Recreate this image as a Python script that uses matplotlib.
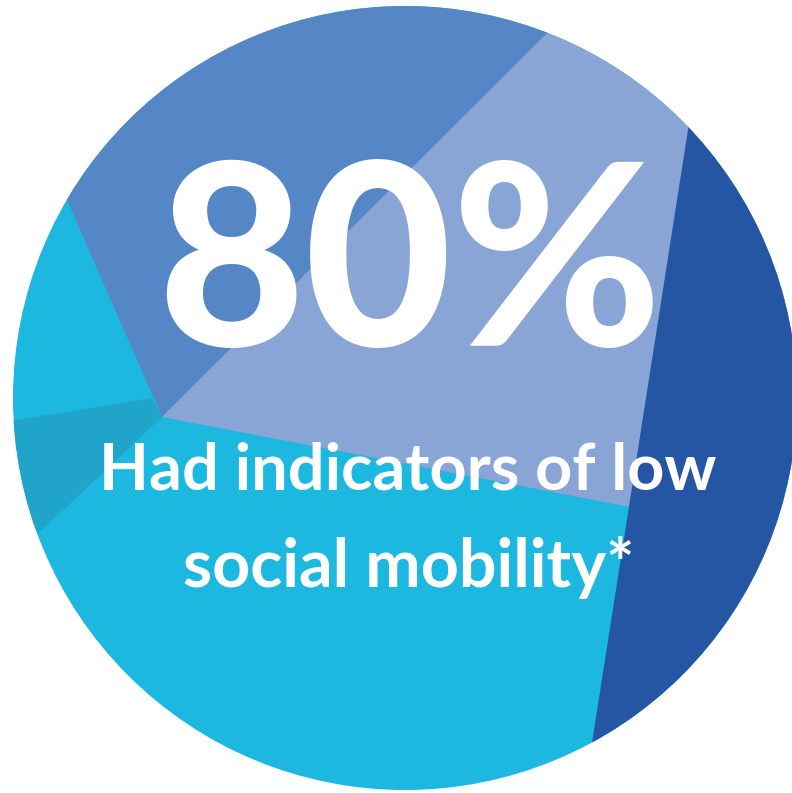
import numpy as np
import matplotlib
matplotlib.use("Agg")
import matplotlib.pyplot as plt
from matplotlib.patches import Circle, Polygon

W, H = 792, 793
DPI = 100

# Disc geometry (pixel space, y pointing down)
center = (405.0, 398.0)
radius = 392.0

# Segment colours
colors = {
    "cyan": "#1cb8e0",
    "teal": "#20a4ca",
    "mid": "#5587c7",
    "light": "#89a5d6",
    "dark": "#2456a3",
}

# Rim angles (degrees, counter-clockwise from east) where segment edges meet the circle
rim_angles = {
    "mid_start": 148.8,
    "mid_end": 68.2,
    "light_end": 43.7,
    "dark_end": -61.5,
    "teal_start": 183.4,
    "teal_end": 200.8,
}

# Interior vertices
hub = (162.0, 417.0)
teal_notch = (152.0, 398.0)
kink_y = 507.0

headline = "80%"
subtitle_lines = ["Had indicators of low", "social mobility*"]


def rim(a, scale=1.0):
    t = np.deg2rad(a)
    return (center[0] + radius * scale * np.cos(t), center[1] - radius * scale * np.sin(t))


def arc(a0, a1, n=80):
    return [rim(a, 1.02) for a in np.linspace(a0, a1, n)]


# The dark segment is bounded by a straight chord between two rim points
chord_top = rim(rim_angles["light_end"])
chord_bot = rim(rim_angles["dark_end"])
frac = (kink_y - chord_top[1]) / (chord_bot[1] - chord_top[1])
kink = (chord_top[0] + frac * (chord_bot[0] - chord_top[0]), kink_y)

fig = plt.figure(figsize=(W / DPI, H / DPI), dpi=DPI)
ax = fig.add_axes([0, 0, 1, 1])
ax.set_xlim(0, W)
ax.set_ylim(H, 0)
ax.axis("off")

disc = Circle(center, radius, facecolor=colors["cyan"], edgecolor="none")
ax.add_patch(disc)

light_pts = ([hub] + arc(rim_angles["mid_end"], rim_angles["light_end"] - 4)
             + [(kink[0] + 12, kink[1] + 2)])
dark_pts = ([chord_top] + arc(rim_angles["light_end"], rim_angles["dark_end"])
            + [chord_bot])

shapes = [
    ("mid", [hub] + arc(rim_angles["mid_start"], rim_angles["mid_end"])),
    ("light", light_pts),
    ("dark", dark_pts),
    ("teal", [teal_notch, hub] + arc(rim_angles["teal_end"], rim_angles["teal_start"])),
]
for key, pts in shapes:
    poly = Polygon(pts, closed=True, facecolor=colors[key], edgecolor="none")
    ax.add_patch(poly)
    poly.set_clip_path(disc)

font = ["Lato", "DejaVu Sans"]
renderer = fig.canvas.get_renderer()


def fitted_text(x, y, s, target_w, size0, weight="bold"):
    t = ax.text(x, y, s, color="white", fontsize=size0, fontweight=weight,
                family=font, ha="center", va="baseline")
    w = t.get_window_extent(renderer).width
    t.set_fontsize(size0 * target_w / w)
    return t


fitted_text(410, 346, headline, 505, 190, weight="black")
fitted_text(408, 490, subtitle_lines[0], 618, 45)
fitted_text(409, 587, subtitle_lines[1], 452, 45)

fig.savefig("out.png", dpi=DPI, facecolor="white")
